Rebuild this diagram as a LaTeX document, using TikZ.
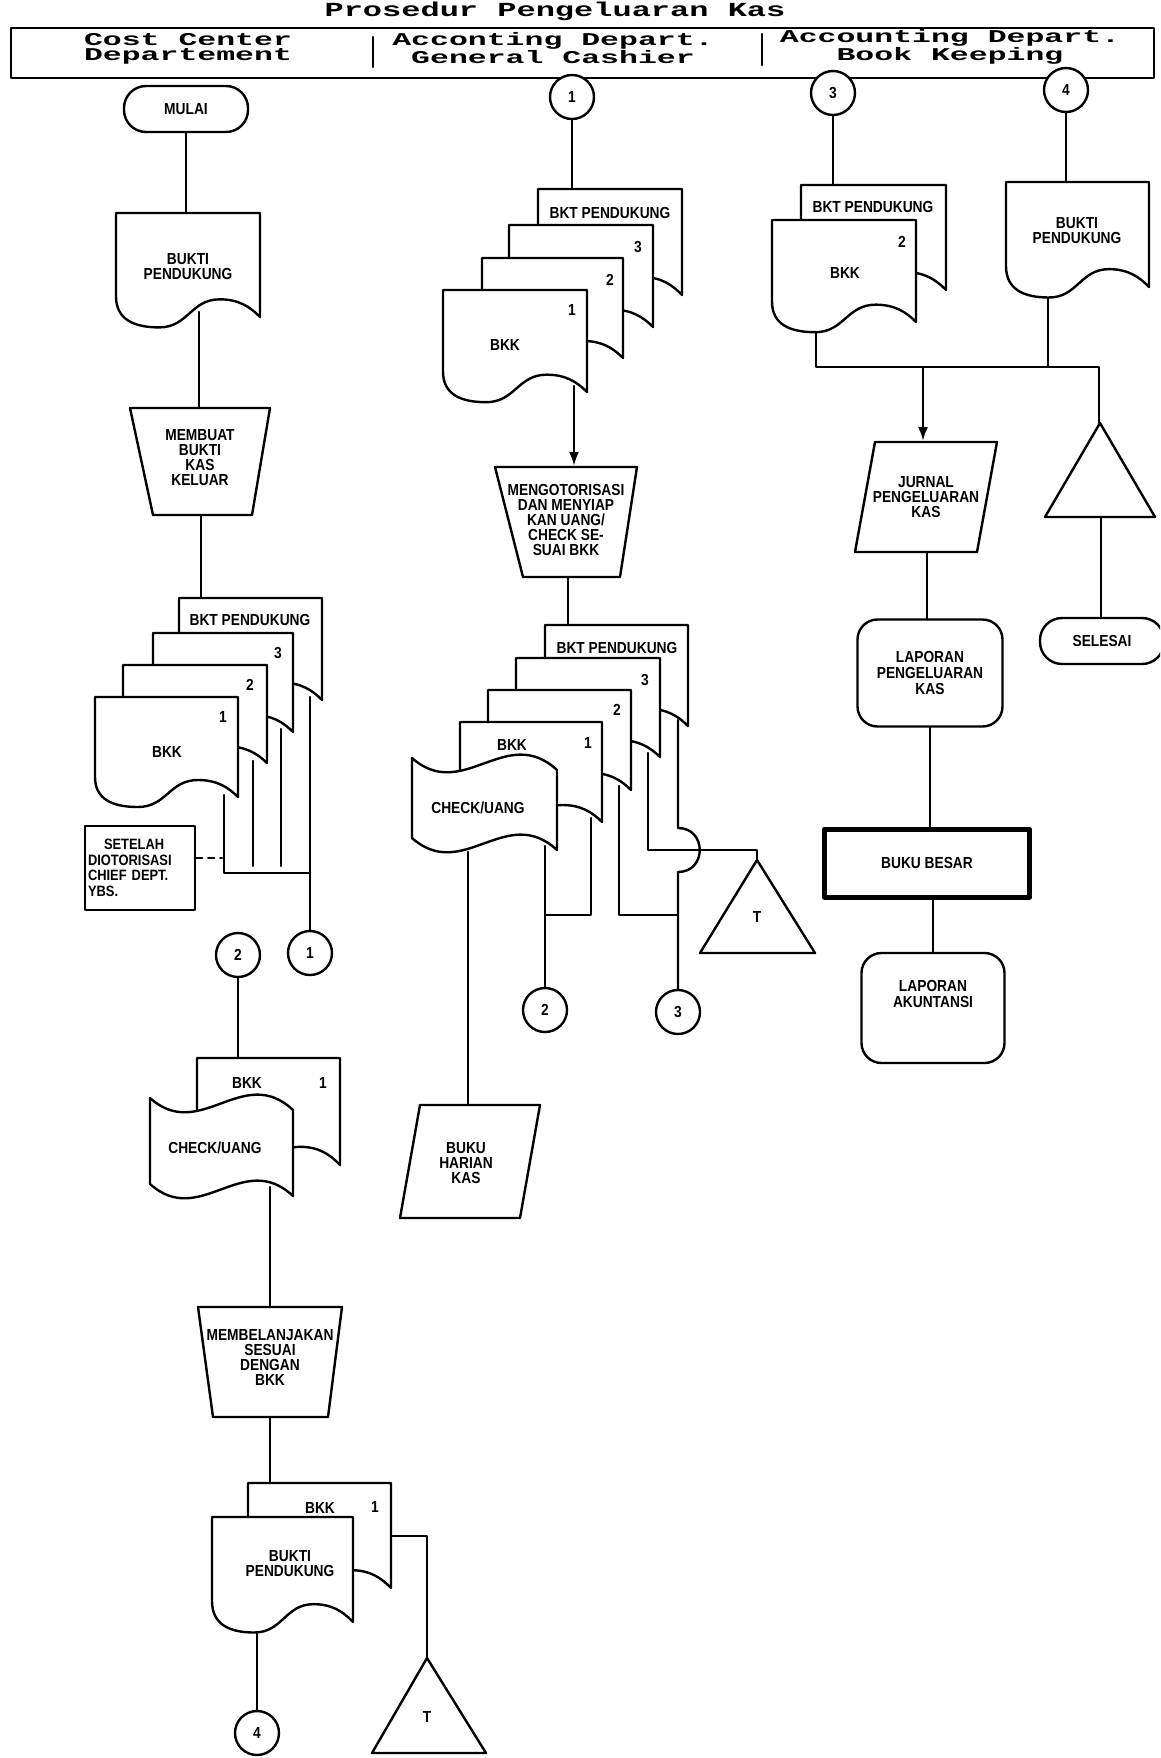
\documentclass[tikz,border=0pt]{standalone}
\usepackage{fontspec}
\usetikzlibrary{arrows.meta}
\newfontfamily\bodyf{Liberation Sans}[FakeStretch=0.86]
\newfontfamily\hdrf{Liberation Mono}[FakeStretch=1.75]
\newfontfamily\ttlf{Liberation Mono}[FakeStretch=1.6]
\pgfdeclarelayer{bg}
\pgfsetlayers{bg,main}
\tikzset{
 ln/.style={line width=2.4pt, line cap=round, line join=round},
 shp/.style={ln, draw, fill=white},
 txt/.style={font=\bodyf\bfseries\fontsize{16}{15}\selectfont, align=center, inner sep=0pt},
 conn/.style={shp, circle, minimum size=44pt, inner sep=0pt, font=\bodyf\bfseries\fontsize{16}{15}\selectfont},
 term/.style={shp, rectangle, rounded corners=22pt, minimum width=124pt, minimum height=46pt, font=\bodyf\bfseries\fontsize{16}{15}\selectfont},
 rrect/.style={shp, rectangle, rounded corners=20pt, align=center, font=\bodyf\bfseries\fontsize{16}{16}\selectfont},
 notebox/.style={shp, rectangle, align=left, text width=104pt, inner sep=3pt, minimum height=84pt, font=\bodyf\bfseries\fontsize{15}{15.5}\selectfont},
 hdr/.style={font=\hdrf\bfseries\fontsize{18}{14.5}\selectfont, align=center, inner sep=0pt},
 ttl/.style={font=\ttlf\bfseries\fontsize{20}{20}\selectfont, inner sep=0pt},
 arr/.style={ln, -{Latex[length=14pt,width=10pt]}},
}
% document symbol: x y w h (top-left, width, height of right edge)
\newcommand\DocShape[4]{\draw[shp] (#1,#2) -- (#1+#3,#2) -- (#1+#3,#2+#4)
 .. controls (#1+0.93*#3,#2+0.9*#4) and (#1+0.85*#3,#2+0.83*#4) .. (#1+0.72*#3,#2+0.83*#4)
 .. controls (#1+0.52*#3,#2+0.83*#4) and (#1+0.5*#3,#2+1.1*#4) .. (#1+0.3*#3,#2+1.1*#4)
 .. controls (#1+0.12*#3,#2+1.1*#4) and (#1,#2+1.02*#4) .. (#1,#2+0.8*#4) -- cycle;}
% punched tape symbol: left top w H rightoffset
\newcommand\TapeShape[5]{\draw[shp] (#1,#2)
 .. controls (#1+0.35*#3,#2+45) and (#1+0.65*#3,#2-35) .. (#1+#3,#2+#5)
 -- (#1+#3,#2+#5+#4)
 .. controls (#1+0.65*#3,#2-35+#4) and (#1+0.35*#3,#2+45+#4) .. (#1,#2+#4) -- cycle;}
\begin{document}
\begin{tikzpicture}[x=1pt,y=-1pt]
\useasboundingbox (0,0) rectangle (1160,1758);
\clip (0,0) rectangle (1160,1758);

% ---------- header ----------
\node[ttl,anchor=base] (title) at (555,17) {Prosedur Pengeluaran Kas};
\draw[ln] (11,28) rectangle (1154,78);
\draw[ln] (373,37) -- (373,67);
\draw[ln] (762,34) -- (762,65);
\node[hdr] (h1) at (188,49) {Cost Center\\Departement};
\node[hdr] (h2) at (553,48) {Acconting Depart.\\General Cashier};
\node[hdr] (h3) at (950,47) {Accounting Depart.\\Book Keeping};

% ---------- column 1 : cost center ----------
\node[term] (mulai) at (186,109) {MULAI};
\DocShape{116}{213}{144}{104}
\node[txt] (tbp1) at (188,267) {BUKTI\\PENDUKUNG};
\draw[shp] (130,408) -- (270,408) -- (252,515) -- (153,515) -- cycle;
\node[txt] (tmb) at (200,458) {MEMBUAT\\BUKTI\\KAS\\KELUAR};

\DocShape{179}{598}{143}{102}
\node[txt] (tc1bk) at (250,620) {BKT PENDUKUNG};
\DocShape{153}{633}{140}{99}
\node[txt] (tc1n3) at (278,653) {3};
\DocShape{123}{665}{144}{98}
\node[txt] (tc1n2) at (250,685) {2};
\DocShape{95}{697}{143}{100}
\node[txt] (tc1n1) at (223,717) {1};
\node[txt] (tc1bkk) at (167,752) {BKK};

\node[notebox] (note) at (140,868) {\hspace*{16pt}SETELAH\\DIOTORISASI\\CHIEF DEPT.\\YBS.};
\node[conn] (c1o2) at (238,955) {2};
\node[conn] (c1o1) at (310,953) {1};

\DocShape{197}{1058}{143}{107}
\node[txt] (tc1bkkb) at (247,1083) {BKK};
\node[txt] (tc1n1b) at (323,1083) {1};
\TapeShape{150}{1098}{143}{86}{12}
\node[txt] (tcu1) at (215,1148) {CHECK/UANG};

\draw[shp] (198,1307) -- (342,1307) -- (328,1417) -- (213,1417) -- cycle;
\node[txt] (tmbl) at (270,1357) {MEMBELANJAKAN\\SESUAI\\DENGAN\\BKK};

\DocShape{248}{1483}{143}{105}
\node[txt] (tc1bkkc) at (320,1508) {BKK};
\node[txt] (tc1n1c) at (375,1507) {1};
\DocShape{212}{1517}{141}{105}
\node[txt] (tbp2) at (290,1564) {BUKTI\\PENDUKUNG};
\node[conn] (c1o4) at (257,1733) {4};
\draw[shp] (427,1658) -- (486,1753) -- (372,1753) -- cycle;
\node[txt] (tc1T) at (427,1717) {T};

% ---------- column 2 : general cashier ----------
\node[conn] (g1) at (572,97) {1};
\DocShape{538}{189}{144}{106}
\node[txt] (tg1bk) at (610,213) {BKT PENDUKUNG};
\DocShape{509}{225}{144}{102}
\node[txt] (tg1n3) at (638,247) {3};
\DocShape{482}{258}{141}{100}
\node[txt] (tg1n2) at (610,280) {2};
\DocShape{443}{290}{144}{102}
\node[txt] (tg1n1) at (572,310) {1};
\node[txt] (tg1bkk) at (505,345) {BKK};

\draw[shp] (495,467) -- (637,467) -- (620,577) -- (523,577) -- cycle;
\node[txt] (tmo) at (566,520) {MENGOTORISASI\\DAN MENYIAP\\KAN UANG/\\CHECK SE-\\SUAI BKK};

\DocShape{545}{625}{143}{101}
\node[txt] (tg2bk) at (617,648) {BKT PENDUKUNG};
\DocShape{516}{658}{144}{99}
\node[txt] (tg2n3) at (645,680) {3};
\DocShape{488}{690}{143}{100}
\node[txt] (tg2n2) at (617,710) {2};
\DocShape{460}{722}{142}{100}
\node[txt] (tg2n1) at (588,743) {1};
\node[txt] (tg2bkk) at (512,745) {BKK};
\TapeShape{412}{758}{145}{80}{12}
\node[txt] (tcu2) at (478,808) {CHECK/UANG};

\node[conn] (g2) at (545,1010) {2};
\node[conn] (g3) at (678,1012) {3};
\draw[shp] (757,860) -- (815,953) -- (700,953) -- cycle;
\node[txt] (tg2T) at (757,917) {T};
\draw[shp] (420,1105) -- (540,1105) -- (520,1218) -- (400,1218) -- cycle;
\node[txt] (tbhk) at (466,1163) {BUKU\\HARIAN\\KAS};

% ---------- column 3 : book keeping ----------
\node[conn] (k3) at (833,93) {3};
\node[conn] (k4) at (1066,90) {4};
\DocShape{801}{185}{145}{105}
\node[txt] (tk3bk) at (873,207) {BKT PENDUKUNG};
\DocShape{772}{220}{144}{102}
\node[txt] (tk3n2) at (902,242) {2};
\DocShape{1006}{182}{143}{105}
\node[txt] (tk4bp) at (1077,231) {BUKTI\\PENDUKUNG};
\node[txt] (tk3bkk) at (845,273) {BKK};

\draw[shp] (875,442) -- (997,442) -- (977,552) -- (855,552) -- cycle;
\node[txt] (tjpk) at (926,497) {JURNAL\\PENGELUARAN\\KAS};
\draw[shp] (1100,423) -- (1155,517) -- (1045,517) -- cycle;
\node[term] (sel) at (1102,641) {SELESAI};
\node[rrect, minimum width=145pt, minimum height=107pt] (lapk) at (930,673) {LAPORAN\\PENGELUARAN\\KAS};
\node[shp, line width=5pt, rectangle, minimum width=205pt, minimum height=68pt, font=\bodyf\bfseries\fontsize{16}{15}\selectfont] (bb) at (927,863) {BUKU BESAR};
\node[rrect, minimum width=143pt, minimum height=110pt] (lapa) at (933,1008) {LAPORAN\\AKUNTANSI\\[12pt]};

% ---------- connection points ----------
\coordinate (a1) at (186,216);
\coordinate (a2) at (199,312);
\coordinate (a3) at (199,411);
\coordinate (a4) at (201,512);
\coordinate (a5) at (201,601);
\coordinate (c1d1) at (224,795);
\coordinate (c1j) at (310,873);
\coordinate (c1d2s) at (253,761);
\coordinate (c1d2e) at (253,866);
\coordinate (c1d3s) at (281,729);
\coordinate (c1d3e) at (281,866);
\coordinate (c1bk) at (310,697);
\coordinate (c1dash) at (222,858);
\coordinate (b1) at (238,1061);
\coordinate (b2) at (270,1187);
\coordinate (b3) at (270,1310);
\coordinate (b4) at (270,1414);
\coordinate (b5) at (270,1486);
\coordinate (b6) at (257,1625);
\coordinate (b7) at (388,1536);
\coordinate (c1tri) at (427,1661);
\coordinate (e1) at (572,192);
\coordinate (e2) at (574,386);
\coordinate (e3) at (574,466);
\coordinate (e4) at (568,574);
\coordinate (e5) at (568,628);
\coordinate (f1) at (468,852);
\coordinate (f2) at (468,1108);
\coordinate (f3) at (545,846);
\coordinate (f4) at (591,818);
\coordinate (f5) at (545,915);
\coordinate (f6) at (619,786);
\coordinate (f7) at (678,915);
\coordinate (f8) at (648,753);
\coordinate (f9) at (757,850);
\coordinate (g2tri) at (757,863);
\coordinate (f10) at (678,720);
\coordinate (hopA) at (678,828);
\coordinate (hopB) at (678,872);
\coordinate (m1) at (833,188);
\coordinate (m2) at (1066,185);
\coordinate (m3) at (816,326);
\coordinate (m4) at (1099,367);
\coordinate (ktri) at (1099,426);
\coordinate (m5) at (1048,292);
\coordinate (m6) at (1048,367);
\coordinate (m7) at (923,367);
\coordinate (m8) at (923,441);
\coordinate (m9) at (927,549);
\coordinate (ktrib) at (1101,514);

% ---------- connectors ----------
\begin{pgfonlayer}{bg}
\draw[ln] (mulai.south) -- (a1);
\draw[ln] (a2) -- (a3);
\draw[ln] (a4) -- (a5);
\draw[ln] (c1d1) |- (c1j);
\draw[ln] (c1d2s) -- (c1d2e);
\draw[ln] (c1d3s) -- (c1d3e);
\draw[ln] (c1bk) -- (c1o1.north);
\draw[ln, dash pattern=on 6pt off 6pt] (note.east |- c1dash) -- (c1dash);
\draw[ln] (c1o2.south) -- (b1);
\draw[ln] (b2) -- (b3);
\draw[ln] (b4) -- (b5);
\draw[ln] (b6) -- (c1o4.north);
\draw[ln] (b7) -| (c1tri);
\draw[ln] (g1.south) -- (e1);
\draw[arr] (e2) -- (e3);
\draw[ln] (e4) -- (e5);
\draw[ln] (f1) -- (f2);
\draw[ln] (f3) -- (g2.north);
\draw[ln] (f4) |- (f5);
\draw[ln] (f6) |- (f7);
\draw[ln] (f8) |- (f9) -- (g2tri);
\draw[ln] (f10) -- (hopA) .. controls +(29,0) and +(29,0) .. (hopB) -- (g3.north);
\draw[ln] (k3.south) -- (m1);
\draw[ln] (k4.south) -- (m2);
\draw[ln] (m3) |- (m4) -- (ktri);
\draw[ln] (m5) -- (m6);
\draw[arr] (m7) -- (m8);
\draw[ln] (m9) -- (m9 |- lapk.north);
\draw[ln] (lapk.south) -- (lapk.south |- bb.north);
\draw[ln] (bb.south -| lapa.north) -- (lapa.north);
\draw[ln] (ktrib) -- (ktrib |- sel.north);
\end{pgfonlayer}
\end{tikzpicture}
\end{document}
